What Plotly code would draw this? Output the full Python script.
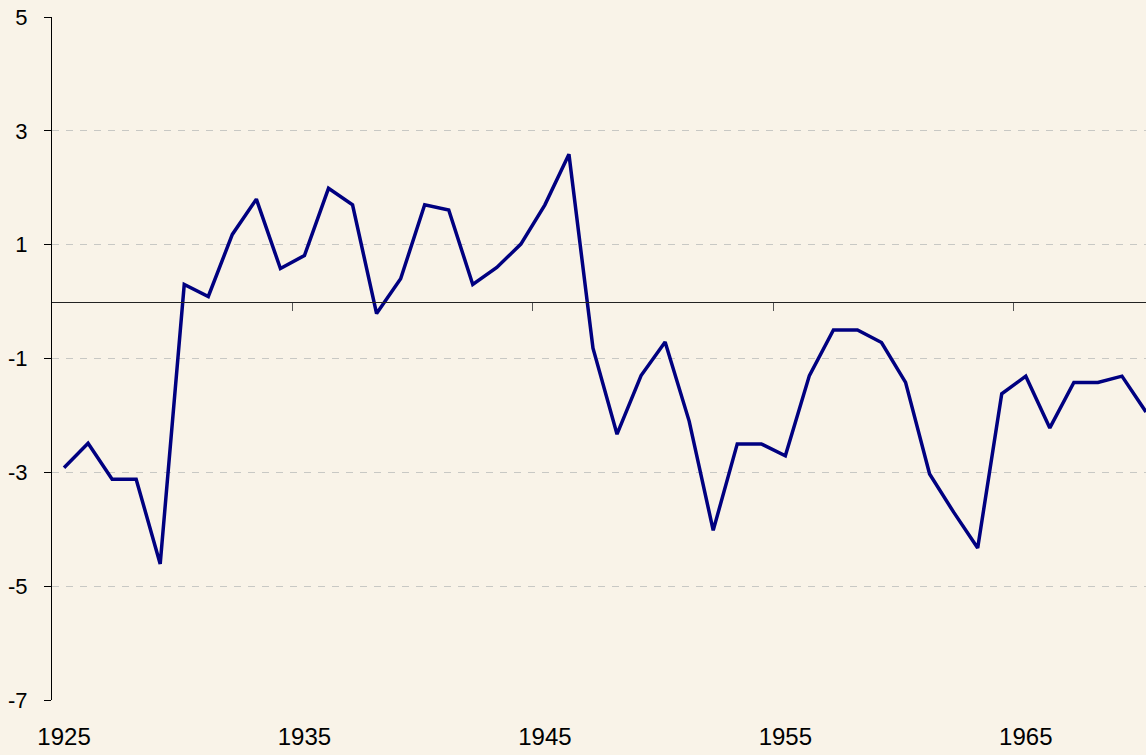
import plotly.graph_objects as go

years = list(range(1925, 1971))
values = [
    -2.92, -2.49, -3.12, -3.12, -4.61, 0.30, 0.09, 1.18, 1.80, 0.58,
    0.81, 1.99, 1.70, -0.21, 0.40, 1.70, 1.61, 0.30, 0.60, 1.01,
    1.70, 2.59, -0.82, -2.33, -1.30, -0.71, -2.10, -4.02, -2.50, -2.50,
    -2.71, -1.30, -0.50, -0.50, -0.72, -1.42, -3.03, -3.70, -4.33, -1.62,
    -1.31, -2.22, -1.42, -1.42, -1.31, -1.94,
]
x_label_years = [1925, 1935, 1945, 1955, 1965]
y_ticks = [5, 3, 1, -1, -3, -5, -7]
y_tick_labels = ["5", "3", "1", "-1", "-3", "-5", "-7"]
x_divider_ticks = [1934.5, 1944.5, 1954.5, 1964.5]

BG = "#F9F3E8"
FONT = "Liberation Sans, Arial, sans-serif"

fig = go.Figure()
fig.add_trace(go.Scatter(
    x=years, y=values, mode="lines",
    line=dict(color="#000080", width=3.5),
    showlegend=False, hoverinfo="x+y",
))
# invisible trace to activate the secondary x-axis (zero-line ticks)
fig.add_trace(go.Scatter(
    x=[years[0]], y=[0], xaxis="x2", mode="markers",
    marker=dict(opacity=0), showlegend=False, hoverinfo="skip",
))

xr = [1924.5, 1970.0]
fig.update_layout(
    width=1146, height=755,
    paper_bgcolor=BG, plot_bgcolor=BG,
    margin=dict(l=52, r=0, t=17, b=55),
    font=dict(family=FONT, color="#000000"),
    xaxis=dict(
        range=xr, tickmode="array", tickvals=x_label_years,
        ticktext=[str(y) for y in x_label_years],
        showgrid=False, zeroline=False, showline=False, ticks="",
        tickfont=dict(size=24, family=FONT, color="#000"),
        ticklabelstandoff=20,
    ),
    xaxis2=dict(
        range=xr, overlaying="x", anchor="free",
        position=7 / 12, tickmode="array", tickvals=x_divider_ticks,
        showticklabels=False, ticks="outside", ticklen=8, tickwidth=1,
        tickcolor="#555", showline=True, linecolor="#222", linewidth=1,
        showgrid=False, zeroline=False,
    ),
    yaxis=dict(
        range=[-7, 5], tickmode="array", tickvals=y_ticks,
        ticktext=y_tick_labels,
        showgrid=True, gridcolor="#C8C8C4", gridwidth=1, griddash="7px,7px",
        zeroline=False, showline=True, linecolor="#000", linewidth=1,
        ticks="outside", ticklen=7, tickcolor="#000", tickwidth=1,
        tickfont=dict(size=22, family=FONT, color="#000"),
        ticklabelstandoff=12,
    ),
)

fig.write_html(
    "out.html",
    config={"displayModeBar": False},
    post_script="document.body.style.margin='0';document.body.style.overflow='hidden';",
)
